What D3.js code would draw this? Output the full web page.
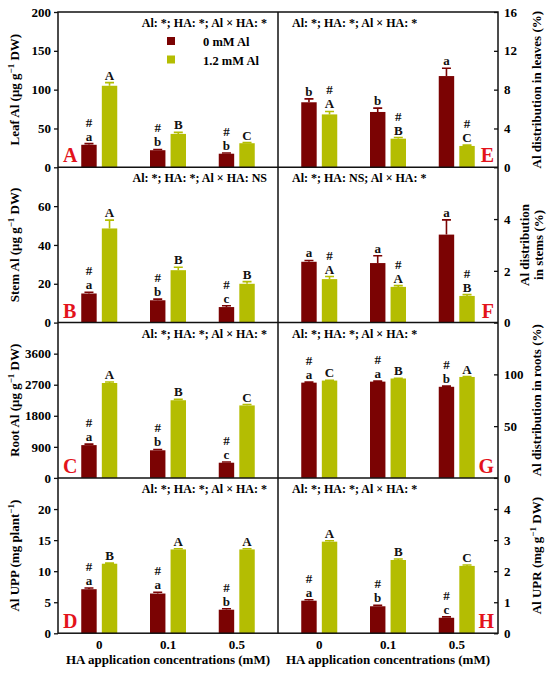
<!DOCTYPE html>
<html lang="en">
<head>
  <meta charset="UTF-8">
  <title></title>
  <style>
    body { margin: 0; background: #fff; }
    svg text { font-family: "Liberation Serif", "Times New Roman", "DejaVu Serif", serif; font-weight: bold; }
  </style>
</head>
<body>
  <script src="https://d3js.org/d3.v7.min.js"></script>
  <script>
    const groups = ["0", "0.1", "0.5"];
    const series = ["0 mM Al", "1.2 mM Al"];
    const colors = ["#7b0303", "#b4bd02"];

    // A: leaf Al
    const leafAl0 = [29, 22, 17.5], leafAlErr0 = [1.5, 1, 1];
    const leafAl12 = [105, 43, 31], leafAlErr12 = [4, 2, 0.8];
    const leafAlLet0 = ["a", "b", "b"], leafAlLet12 = ["A", "B", "C"];
    const leafAlHash0 = ["#", "#", "#"], leafAlHash12 = ["", "", ""];
    const leafAlTicks = [0, 50, 100, 150, 200];
    // E: leaf distribution
    const leafPct0 = [6.7, 5.7, 9.4], leafPctErr0 = [0.35, 0.4, 0.8];
    const leafPct12 = [5.45, 2.95, 2.2], leafPctErr12 = [0.3, 0.12, 0.08];
    const leafPctLet0 = ["b", "b", "a"], leafPctLet12 = ["A", "B", "C"];
    const leafPctHash0 = ["", "", ""], leafPctHash12 = ["#", "#", "#"];
    const leafPctTicks = [0, 4, 8, 12, 16];
    // B: stem Al
    const stemAl0 = [15, 11.5, 8], stemAlErr0 = [0.6, 0.6, 0.7];
    const stemAl12 = [48.5, 27, 20], stemAlErr12 = [4.3, 1.5, 1.1];
    const stemAlLet0 = ["a", "b", "c"], stemAlLet12 = ["A", "B", "B"];
    const stemAlHash0 = ["#", "#", "#"], stemAlHash12 = ["", "", ""];
    const stemAlTicks = [0, 20, 40, 60];
    // F: stem distribution
    const stemPct0 = [2.35, 2.3, 3.4], stemPctErr0 = [0.05, 0.28, 0.57];
    const stemPct12 = [1.68, 1.38, 1.03], stemPctErr12 = [0.1, 0.05, 0.05];
    const stemPctLet0 = ["a", "a", "a"], stemPctLet12 = ["A", "A", "B"];
    const stemPctHash0 = ["", "", ""], stemPctHash12 = ["#", "#", "#"];
    const stemPctTicks = [0, 2, 4];
    // C: root Al
    const rootAl0 = [950, 800, 440], rootAlErr0 = [30, 25, 20];
    const rootAl12 = [2750, 2250, 2100], rootAlErr12 = [30, 25, 25];
    const rootAlLet0 = ["a", "b", "c"], rootAlLet12 = ["A", "B", "C"];
    const rootAlHash0 = ["#", "#", "#"], rootAlHash12 = ["", "", ""];
    const rootAlTicks = [0, 900, 1800, 2700, 3600];
    // G: root distribution
    const rootPct0 = [92, 93, 88], rootPctErr0 = [0.5, 0.5, 0.6];
    const rootPct12 = [94, 96, 97.5], rootPctErr12 = [0.3, 0.3, 0.3];
    const rootPctLet0 = ["a", "a", "b"], rootPctLet12 = ["C", "B", "A"];
    const rootPctHash0 = ["#", "#", "#"], rootPctHash12 = ["", "", ""];
    const rootPctTicks = [0, 50, 100];
    // D: Al UPP
    const upp0 = [7.1, 6.4, 3.8], uppErr0 = [0.2, 0.2, 0.15];
    const upp12 = [11.2, 13.5, 13.5], uppErr12 = [0.1, 0.1, 0.1];
    const uppLet0 = ["a", "a", "b"], uppLet12 = ["B", "A", "A"];
    const uppHash0 = ["#", "#", "#"], uppHash12 = ["", "", ""];
    const uppTicks = [0, 5, 10, 15, 20];
    // H: Al UPR
    const upr0 = [1.05, 0.87, 0.5], uprErr0 = [0.03, 0.03, 0.03];
    const upr12 = [2.95, 2.36, 2.17], uprErr12 = [0.03, 0.03, 0.03];
    const uprLet0 = ["a", "b", "c"], uprLet12 = ["A", "B", "C"];
    const uprHash0 = ["#", "#", "#"], uprHash12 = ["", "", ""];
    const uprTicks = [0, 1, 2, 3, 4];

    const font = "Liberation Serif, Times New Roman, DejaVu Serif, serif";
    const [width, height] = [550, 676];
    const colX = [58, 278], colW = 220;
    const rowY = [12, 167.3, 322.6, 478], rowH = 155.3;

    const panels = [
      { tag: "A", col: 0, row: 0, max: 200, ticks: leafAlTicks, v: [leafAl0, leafAl12], e: [leafAlErr0, leafAlErr12],
        let: [leafAlLet0, leafAlLet12], hash: [leafAlHash0, leafAlHash12], stats: "Al: *; HA: *; Al × HA: *",
        title: ["Leaf Al (μg g", "−1", " DW)"] },
      { tag: "E", col: 1, row: 0, max: 16, ticks: leafPctTicks, v: [leafPct0, leafPct12], e: [leafPctErr0, leafPctErr12],
        let: [leafPctLet0, leafPctLet12], hash: [leafPctHash0, leafPctHash12], stats: "Al: *; HA: *; Al × HA: *",
        title: ["Al distribution in leaves (%)"] },
      { tag: "B", col: 0, row: 1, max: 80, ticks: stemAlTicks, v: [stemAl0, stemAl12], e: [stemAlErr0, stemAlErr12],
        let: [stemAlLet0, stemAlLet12], hash: [stemAlHash0, stemAlHash12], stats: "Al: *; HA: *; Al × HA: NS",
        title: ["Stem Al (μg g", "−1", " DW)"] },
      { tag: "F", col: 1, row: 1, max: 6, ticks: stemPctTicks, v: [stemPct0, stemPct12], e: [stemPctErr0, stemPctErr12],
        let: [stemPctLet0, stemPctLet12], hash: [stemPctHash0, stemPctHash12], stats: "Al: *; HA: NS; Al × HA: *",
        title: ["Al distribution", "in stems (%)"], twoLine: true },
      { tag: "C", col: 0, row: 2, max: 4500, ticks: rootAlTicks, v: [rootAl0, rootAl12], e: [rootAlErr0, rootAlErr12],
        let: [rootAlLet0, rootAlLet12], hash: [rootAlHash0, rootAlHash12], stats: "Al: *; HA: *; Al × HA: *",
        title: ["Root Al (μg g", "−1", " DW)"] },
      { tag: "G", col: 1, row: 2, max: 150, ticks: rootPctTicks, v: [rootPct0, rootPct12], e: [rootPctErr0, rootPctErr12],
        let: [rootPctLet0, rootPctLet12], hash: [rootPctHash0, rootPctHash12], stats: "Al: *; HA: *; Al × HA: *",
        title: ["Al distribution in roots (%)"] },
      { tag: "D", col: 0, row: 3, max: 25, ticks: uppTicks, v: [upp0, upp12], e: [uppErr0, uppErr12],
        let: [uppLet0, uppLet12], hash: [uppHash0, uppHash12], stats: "Al: *; HA: *; Al × HA: *",
        title: ["Al UPP (mg plant", "−1", ")"] },
      { tag: "H", col: 1, row: 3, max: 5, ticks: uprTicks, v: [upr0, upr12], e: [uprErr0, uprErr12],
        let: [uprLet0, uprLet12], hash: [uprHash0, uprHash12], stats: "Al: *; HA: *; Al × HA: *",
        title: ["Al UPR (mg g", "−1", " DW)"] }
    ];

    const svg = d3.select(document.body)
      .append("svg")
      .attr("width", width)
      .attr("height", height)
      .attr("viewBox", [0, 0, width, height])
      .attr("font-family", font)
      .attr("font-weight", "bold");

    const xs = d3.scaleBand().domain(series).range([-18, 18]).paddingInner(0.25);
    const fmt = d3.format("~g");

    panels.forEach((p) => {
      const px = colX[p.col], py = rowY[p.row];
      const x = d3.scaleBand().domain(groups).range([px, px + colW]).paddingOuter(0.1);
      const y = d3.scaleLinear().domain([0, p.max]).range([py + rowH, py]);
      const g = svg.append("g");

      series.forEach((s, si) => {
        const rows = groups.map((grp, i) => ({
          grp, v: p.v[si][i], e: p.e[si][i], letter: p.let[si][i], hash: p.hash[si][i],
          cx: x(grp) + x.bandwidth() / 2 + xs(s) + xs.bandwidth() / 2
        }));
        const sg = g.append("g").attr("fill", colors[si]).attr("stroke", colors[si]);
        sg.selectAll("rect").data(rows).join("rect")
          .attr("stroke", "none")
          .attr("x", (d) => d.cx - xs.bandwidth() / 2)
          .attr("y", (d) => y(d.v))
          .attr("width", xs.bandwidth())
          .attr("height", (d) => y(0) - y(d.v));
        sg.selectAll("path").data(rows).join("path")
          .attr("fill", "none")
          .attr("stroke-width", 1.6)
          .attr("d", (d) => `M${d.cx},${y(d.v)}V${y(d.v + d.e)}M${d.cx - 4.5},${y(d.v + d.e)}H${d.cx + 4.5}`);
        const lg = g.append("g").attr("font-size", 13).attr("text-anchor", "middle").attr("fill", "#111");
        lg.selectAll("text.let").data(rows).join("text").attr("class", "let")
          .attr("x", (d) => d.cx)
          .attr("y", (d) => y(d.v + d.e) - 3)
          .text((d) => d.letter);
        lg.selectAll("text.hash").data(rows.filter((d) => d.hash)).join("text").attr("class", "hash")
          .attr("x", (d) => d.cx)
          .attr("y", (d) => y(d.v + d.e) - 17)
          .text((d) => d.hash);
      });

      // axis
      const left = p.col === 0;
      const ax = g.append("g")
        .attr("transform", `translate(${left ? px : px + colW},0)`)
        .call(left
          ? d3.axisLeft(y).tickValues(p.ticks).tickFormat(fmt).tickSize(4).tickPadding(3)
          : d3.axisRight(y).tickValues(p.ticks).tickFormat(fmt).tickSize(-4).tickPadding(6))
        .call((a) => a.select(".domain").remove());
      ax.attr("font-family", null).attr("font-size", 13);
      ax.selectAll("line").attr("stroke", "#111").attr("stroke-width", 1.3);

      // stats text
      g.append("text")
        .attr("x", left ? px + colW - 11 : px + 14)
        .attr("y", py + 15)
        .attr("text-anchor", left ? "end" : "start")
        .attr("font-size", 12)
        .text(p.stats);

      // panel letter
      g.append("text")
        .attr("x", left ? px + 5 : px + colW - 4)
        .attr("y", py + rowH - 5)
        .attr("text-anchor", left ? "start" : "end")
        .attr("font-size", 20)
        .attr("fill", "#e3131b")
        .text(p.tag);

      // axis title
      const ty = py + rowH / 2;
      if (p.twoLine) {
        p.title.forEach((t, i) => {
          g.append("text")
            .attr("transform", `translate(${529 + i * 14},${ty}) rotate(-90)`)
            .attr("text-anchor", "middle")
            .attr("font-size", 13)
            .text(t);
        });
      } else {
        const t = g.append("text")
          .attr("transform", `translate(${left ? 19 : 541},${ty}) rotate(-90)`)
          .attr("text-anchor", "middle")
          .attr("font-size", 13);
        t.append("tspan").text(p.title[0]);
        if (p.title.length > 1) {
          t.append("tspan").attr("font-size", 9).attr("dy", -5).text(p.title[1]);
          t.append("tspan").attr("dy", 5).text(p.title[2]);
        }
      }

      // bottom labels
      if (p.row === 3) {
        g.append("g").attr("font-size", 13).attr("text-anchor", "middle")
          .selectAll("text").data(groups).join("text")
          .attr("x", (d) => x(d) + x.bandwidth() / 2)
          .attr("y", py + rowH + 16)
          .text((d) => d);
        g.append("text")
          .attr("x", px + colW / 2)
          .attr("y", py + rowH + 31)
          .attr("text-anchor", "middle")
          .attr("font-size", 13)
          .text("HA application concentrations (mM)");
      }
    });

    // frame
    const frame = svg.append("g").attr("fill", "none").attr("stroke", "#111").attr("stroke-width", 1.5);
    frame.append("rect")
      .attr("x", colX[0]).attr("y", rowY[0])
      .attr("width", colW * 2).attr("height", rowH * 4);
    frame.append("line")
      .attr("x1", colX[1]).attr("x2", colX[1])
      .attr("y1", rowY[0]).attr("y2", rowY[0] + rowH * 4);
    rowY.slice(1).forEach((ry) => {
      frame.append("line").attr("x1", colX[0]).attr("x2", colX[0] + colW * 2).attr("y1", ry).attr("y2", ry);
    });

    // legend in panel A
    const leg = svg.append("g").attr("font-size", 12.5);
    series.forEach((s, i) => {
      leg.append("rect").attr("x", 167).attr("y", 37 + i * 18.5).attr("width", 8).attr("height", 8).attr("fill", colors[i]);
      leg.append("text").attr("x", 203).attr("y", 46 + i * 18.5).text(s);
    });
  </script>
</body>
</html>
